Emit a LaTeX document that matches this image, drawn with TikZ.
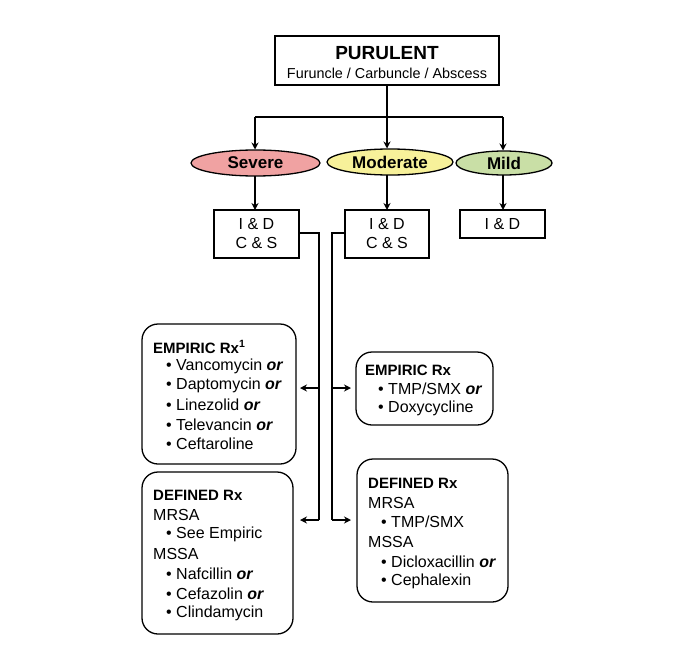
\documentclass[tikz,border=0pt]{standalone}
\usepackage{fontspec}
\setmainfont{Liberation Sans}
\usetikzlibrary{shapes.geometric,arrows.meta}
\definecolor{sevcol}{HTML}{F0A2A2}
\definecolor{modcol}{HTML}{F7F19A}
\definecolor{mildcol}{HTML}{C9DFA6}
\begin{document}
\begin{tikzpicture}[x=1pt,y=-1pt,
  sqbox/.style={draw, line width=1.3pt, inner sep=0pt, align=center},
  sev/.style={draw, line width=1.3pt, ellipse, inner sep=0pt, font=\fontsize{17}{20}\selectfont\bfseries},
  rbox/.style={draw, line width=1.3pt, rounded corners=16pt, inner sep=0pt},
  conn/.style={line width=1.6pt},
  arr/.style={line width=1.6pt, -{Stealth[length=7pt,width=7pt]}},
  txt/.style={anchor=west, inner sep=0pt, font=\fontsize{16}{19}\selectfont},
  hd/.style={anchor=west, inner sep=0pt, font=\fontsize{15}{18}\selectfont\bfseries}
]
\useasboundingbox (0,0) rectangle (685,645);

% top box
\node[sqbox, minimum width=224pt, minimum height=49pt] (top) at (387,60.5) {};
\node[inner sep=0pt, font=\fontsize{19}{22}\selectfont\bfseries] (topt) at (387,53) {PURULENT};
\node[inner sep=0pt, font=\fontsize{14.4}{17}\selectfont] (tops) at (387,73) {Furuncle / Carbuncle / Abscess};

% ellipses
\node[sev, fill=sevcol, minimum width=129pt, minimum height=26pt] (severe) at (255.5,163) {Severe};
\node[sev, fill=modcol, minimum width=126pt, minimum height=26pt] (moderate) at (390,162) {Moderate};
\node[sev, fill=mildcol, minimum width=96pt, minimum height=24pt] (mild) at (504,163) {Mild};

% split
\coordinate (split) at (387,117);
\coordinate (splitL) at (255,117);
\coordinate (splitR) at (503,117);
\draw[conn] (top.south) -- (split);
\draw[conn] (splitL) -- (splitR);
\draw[arr] (splitL) -- (255,149.5);
\draw[arr] (split) -- (387,148.5);
\draw[arr] (splitR) -- (503,150.5);

% I&D boxes
\node[sqbox, minimum width=85pt, minimum height=48pt, font=\fontsize{16}{19}\selectfont] (idL) at (256.5,234) {I \& D\\C \& S};
\node[sqbox, minimum width=84pt, minimum height=48pt, font=\fontsize{16}{19}\selectfont] (idM) at (387,234) {I \& D\\C \& S};
\node[sqbox, minimum width=85pt, minimum height=28pt, font=\fontsize{16}{19}\selectfont] (idR) at (502.5,224) {I \& D};

\draw[arr] (255,176) -- (255,210);
\draw[arr] (387,175) -- (387,210);
\draw[arr] (503,175) -- (503,210);

% left empiric box
\node[rbox, minimum width=154pt, minimum height=140pt] (empL) at (219,394) {};
\node[hd] (eL0) at (153,347) {EMPIRIC Rx\textsuperscript{1}};
\node[txt] (eL1) at (166,366) {• Vancomycin \textbf{\textit{or}}};
\node[txt] (eL2) at (166,385.5) {• Daptomycin \textbf{\textit{or}}};
\node[txt] (eL3) at (166,405) {• Linezolid \textbf{\textit{or}}};
\node[txt] (eL4) at (166,424.5) {• Televancin \textbf{\textit{or}}};
\node[txt] (eL5) at (166,444) {• Ceftaroline};

% left defined box
\node[rbox, minimum width=151pt, minimum height=162pt] (defL) at (217.5,553) {};
\node[hd] (dL0) at (153,495) {DEFINED Rx};
\node[txt] (dL1) at (153,515) {MRSA};
\node[txt] (dL2) at (166,534.5) {• See Empiric};
\node[txt] (dL3) at (153,554) {MSSA};
\node[txt] (dL4) at (166,574) {• Nafcillin \textbf{\textit{or}}};
\node[txt] (dL5) at (166,594) {• Cefazolin \textbf{\textit{or}}};
\node[txt] (dL6) at (166,613.5) {• Clindamycin};

% right empiric box
\node[rbox, minimum width=137pt, minimum height=73pt] (empR) at (424.5,388.5) {};
\node[hd] (eR0) at (365,370) {EMPIRIC Rx};
\node[txt] (eR1) at (378,389) {• TMP/SMX \textbf{\textit{or}}};
\node[txt] (eR2) at (378,408.5) {• Doxycycline};

% right defined box
\node[rbox, minimum width=151pt, minimum height=143pt] (defR) at (432.5,530.5) {};
\node[hd] (dR0) at (368,483) {DEFINED Rx};
\node[txt] (dR1) at (368,502.5) {MRSA};
\node[txt] (dR2) at (381,522) {• TMP/SMX};
\node[txt] (dR3) at (368,542) {MSSA};
\node[txt] (dR4) at (381,562) {• Dicloxacillin \textbf{\textit{or}}};
\node[txt] (dR5) at (381,581.5) {• Cephalexin};

% connectors
\coordinate (lt) at (319,233);
\coordinate (lm) at (319,388);
\coordinate (lb) at (319,520);
\coordinate (rt) at (332,233);
\coordinate (rm) at (332,388);
\coordinate (rb) at (332,520);
\draw[conn] (idL.east |- lt) -- (lt) -- (lb);
\draw[arr] (lb) -- (300,520);
\draw[arr] (lm) -- (300,388);
\draw[conn] (idM.west |- rt) -- (rt) -- (rb);
\draw[arr] (rb) -- (351,520);
\draw[arr] (rm) -- (351,388);
\end{tikzpicture}
\end{document}
